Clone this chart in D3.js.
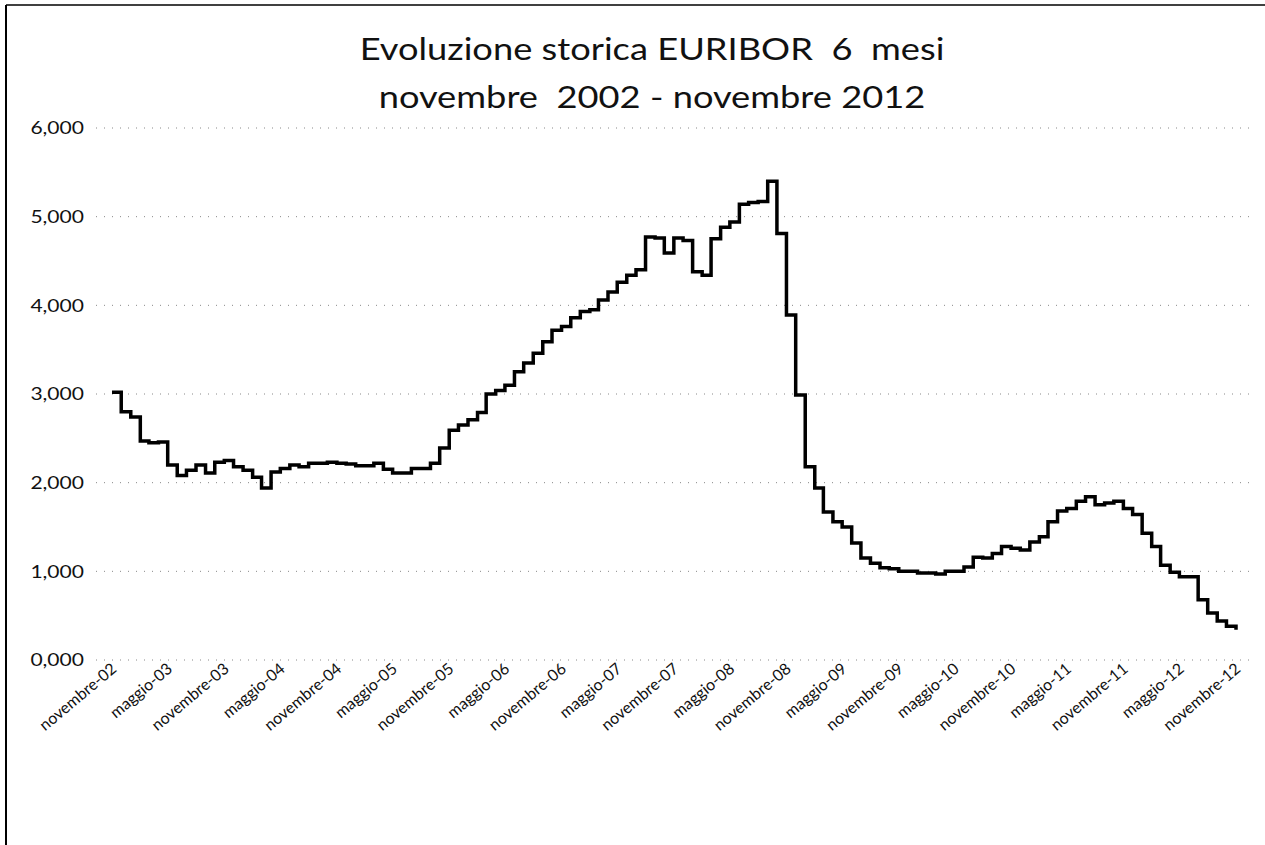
<!DOCTYPE html>
<html>
<head>
<meta charset="utf-8">
<script src="https://cdn.jsdelivr.net/npm/d3@7"></script>
<style>
  body { margin: 0; background: #fff; }
  svg { display: block; }
  text { font-family: Lato, "Open Sans", sans-serif; fill: #111; }
</style>
</head>
<body>
<div class="chart"></div>
<script>
// EURIBOR 6 mesi, one value per month, novembre 2002 -> novembre 2012
const startMonth = new Date(2002, 10, 1);

const euribor = [
  3.02, 2.80, 2.74, 2.47, 2.45, 2.46, 2.20, 2.08, 2.14, 2.20, 2.11, 2.23,   // nov-02 .. ott-03
  2.25, 2.18, 2.14, 2.06, 1.94, 2.12, 2.16, 2.20, 2.18, 2.22, 2.22, 2.23,   // nov-03 .. ott-04
  2.22, 2.21, 2.19, 2.19, 2.22, 2.15, 2.11, 2.11, 2.16, 2.16, 2.22, 2.39,   // nov-04 .. ott-05
  2.59, 2.65, 2.71, 2.79, 3.00, 3.04, 3.10, 3.25, 3.35, 3.46, 3.59, 3.72,   // nov-05 .. ott-06
  3.76, 3.86, 3.93, 3.95, 4.06, 4.15, 4.26, 4.34, 4.40, 4.77, 4.76, 4.59,   // nov-06 .. ott-07
  4.76, 4.73, 4.38, 4.34, 4.75, 4.88, 4.94, 5.14, 5.16, 5.17, 5.40, 4.81,   // nov-07 .. ott-08
  3.89, 2.99, 2.18, 1.94, 1.67, 1.56, 1.50, 1.32, 1.15, 1.09, 1.04, 1.03,   // nov-08 .. ott-09
  1.00, 1.00, 0.98, 0.98, 0.97, 1.00, 1.00, 1.05, 1.16, 1.15, 1.20, 1.28,   // nov-09 .. ott-10
  1.26, 1.24, 1.33, 1.39, 1.56, 1.68, 1.71, 1.79, 1.84, 1.75, 1.77, 1.79,   // nov-10 .. ott-11
  1.71, 1.64, 1.43, 1.28, 1.07, 0.99, 0.94, 0.94, 0.68, 0.53, 0.44, 0.38,   // nov-11 .. ott-12
  0.34                                                                      // nov-12
];

const yTicks = [0, 1, 2, 3, 4, 5, 6];
const xTickLabels = [
  "novembre-02", "maggio-03", "novembre-03", "maggio-04", "novembre-04", "maggio-05",
  "novembre-05", "maggio-06", "novembre-06", "maggio-07", "novembre-07", "maggio-08",
  "novembre-08", "maggio-09", "novembre-09", "maggio-10", "novembre-10", "maggio-11",
  "novembre-11", "maggio-12", "novembre-12"
];
const titleLines = ["Evoluzione storica EURIBOR  6  mesi", "novembre  2002 - novembre 2012"];

// svg size
const width = 1265,
      height = 845;

// the scanned page is stretched sideways, texts get the same stretch
const stretch = 1.17;

const svg = d3.select(".chart")
  .append("svg")
  .attr("width", width)
  .attr("height", height);

// frame (left and top edge of the scanned page)
svg.append("line")
  .attr("x1", 6).attr("x2", 6).attr("y1", 5).attr("y2", height)
  .attr("stroke", "#000").attr("stroke-width", 2);
svg.append("line")
  .attr("x1", 6).attr("x2", width).attr("y1", 5).attr("y2", 5)
  .attr("stroke", "#000").attr("stroke-width", 1.5);

// scales
const monthDate = i => d3.timeMonth.offset(startMonth, i);

const x = d3.scaleTime()
  .domain([startMonth, monthDate(120)])
  .range([112, 1236]);

const y = d3.scaleLinear()
  .domain([0, 6])
  .range([660, 128]);

// title
svg.append("g")
  .selectAll("text")
  .data(titleLines)
  .enter()
    .append("text")
    .attr("transform", (d, i) => `translate(652,${60 + i * 48}) scale(${stretch},1)`)
    .attr("text-anchor", "middle")
    .style("font-size", "31px")
    .attr("xml:space", "preserve")
    .text(d => d);

// dotted gridlines
svg.append("g")
  .selectAll("line")
  .data(yTicks)
  .enter()
    .append("line")
    .attr("x1", 96)
    .attr("x2", 1250)
    .attr("y1", d => y(d))
    .attr("y2", d => y(d))
    .attr("stroke", "#888")
    .attr("stroke-width", 1)
    .attr("stroke-dasharray", "1,7");

// y axis labels
const yAxis = d3.axisLeft(y)
  .tickValues(yTicks)
  .tickSize(0)
  .tickPadding(0)
  .tickFormat(d => d3.format(".3f")(d).replace(".", ","));

svg.append("g")
  .attr("transform", "translate(84,0)")
  .call(yAxis)
  .call(g => g.select(".domain").remove())
  .call(g => g.selectAll("text")
    .style("font-size", "18px")
    .style("font-family", "Lato, sans-serif")
    .attr("fill", "#111")
    .attr("transform", `scale(${stretch},1)`));

// x axis labels, one every 6 months
const xAxis = d3.axisBottom(x)
  .tickValues(xTickLabels.map((d, i) => monthDate(i * 6)))
  .tickSize(0)
  .tickPadding(0)
  .tickFormat((d, i) => xTickLabels[i]);

svg.append("g")
  .attr("transform", "translate(-2,662)")
  .call(xAxis)
  .call(g => g.select(".domain").remove())
  .call(g => g.selectAll("text")
    .style("font-size", "16px")
    .style("font-family", "Lato, sans-serif")
    .attr("fill", "#111")
    .attr("text-anchor", "end")
    .attr("y", 0)
    .attr("dx", "0")
    .attr("dy", "0.7em")
    .attr("transform", "rotate(-40)"));

// stepped line
const line = d3.line()
  .x((d, i) => x(monthDate(i)))
  .y(d => y(d))
  .curve(d3.curveStepAfter);

svg.append("path")
  .datum(euribor)
  .attr("fill", "none")
  .attr("stroke", "#000")
  .attr("stroke-width", 3.5)
  .attr("stroke-linejoin", "miter")
  .attr("d", line);
</script>
</body>
</html>
